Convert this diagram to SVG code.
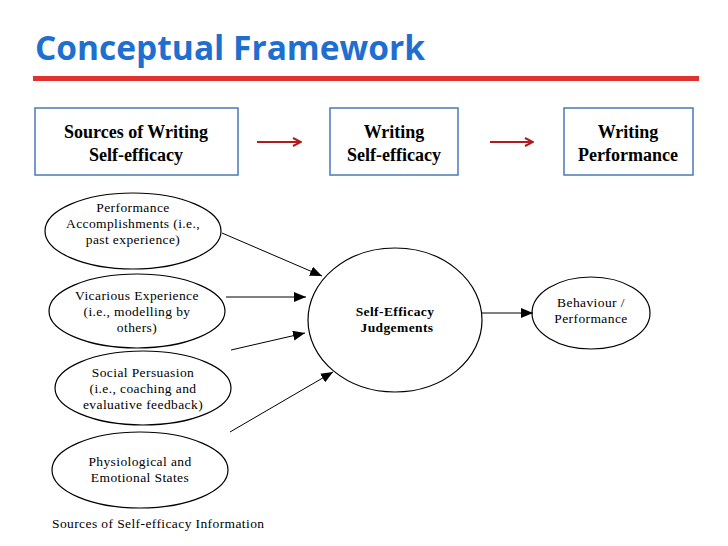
<svg xmlns="http://www.w3.org/2000/svg" width="728" height="546" viewBox="0 0 728 546">
<style>
.box{fill:#fff;stroke:#4a7ab5;stroke-width:1.5}
.bt{font-family:"Liberation Serif",serif;font-weight:bold;font-size:18px;text-anchor:middle;fill:#000}
.el{fill:#fff;stroke:#000;stroke-width:1.2}
.t{font-family:"Liberation Serif",serif;font-size:13.5px;letter-spacing:0.4px;text-anchor:middle;fill:#000}
.c{stroke:#000;stroke-width:1;fill:none;marker-end:url(#a)}
.r{stroke:#b01c1c;stroke-width:2;fill:none;marker-end:url(#ra)}
</style>
<defs>
<marker id="a" markerWidth="12" markerHeight="10" refX="12" refY="5" orient="auto" markerUnits="userSpaceOnUse"><path d="M0,0 L12,5 L0,10z" fill="#000"/></marker>
<marker id="ra" markerWidth="10" markerHeight="10" refX="9" refY="5" orient="auto" markerUnits="userSpaceOnUse"><path d="M1,1 L9,5 L1,9" fill="none" stroke="#b01c1c" stroke-width="2"/></marker>
</defs>
<rect width="728" height="546" fill="#fff"/>
<text x="35" y="60" font-family="Open Sans,sans-serif" font-weight="bold" font-size="33.5" fill="#1f6fd0">Conceptual Framework</text>
<rect x="33" y="76" width="666" height="5" fill="#e0322e"/>
<g id="box1"><rect class="box" x="35" y="108" width="203" height="67"/><text class="bt" x="136" y="138">Sources of Writing</text><text class="bt" x="136" y="161">Self-efficacy</text></g>
<g id="box2"><rect class="box" x="330" y="108" width="128" height="67"/><text class="bt" x="394" y="138">Writing</text><text class="bt" x="394" y="161">Self-efficacy</text></g>
<g id="box3"><rect class="box" x="564" y="108" width="129" height="67"/><text class="bt" x="628" y="138">Writing</text><text class="bt" x="628" y="161">Performance</text></g>
<g id="e1"><ellipse class="el" cx="133" cy="231" rx="88" ry="38"/><text class="t" x="133" y="212">Performance</text><text class="t" x="133" y="228">Accomplishments (i.e.,</text><text class="t" x="133" y="244">past experience)</text></g>
<g id="e2"><ellipse class="el" cx="137" cy="311" rx="88" ry="37"/><text class="t" x="137" y="300">Vicarious Experience</text><text class="t" x="137" y="316">(i.e., modelling by</text><text class="t" x="137" y="332">others)</text></g>
<g id="e3"><ellipse class="el" cx="143" cy="388" rx="88" ry="37"/><text class="t" x="143" y="377">Social Persuasion</text><text class="t" x="143" y="393">(i.e., coaching and</text><text class="t" x="143" y="409">evaluative feedback)</text></g>
<g id="e4"><ellipse class="el" cx="140" cy="470" rx="88" ry="38"/><text class="t" x="140" y="466">Physiological and</text><text class="t" x="140" y="482">Emotional States</text></g>
<g id="se"><ellipse class="el" cx="395" cy="320" rx="87" ry="72"/><text class="t" x="395" y="316" font-weight="bold">Self-Efficacy</text><text class="t" x="397" y="332" font-weight="bold">Judgements</text></g>
<g id="bp"><ellipse class="el" cx="591" cy="313" rx="59" ry="36"/><text class="t" x="591" y="307">Behaviour /</text><text class="t" x="591" y="323">Performance</text></g>
<g id="connectors">
<path class="r" d="M257,142 H301"/><path class="r" d="M490,142 H533"/>
<path class="c" d="M222,233 L322,276"/>
<path class="c" d="M226,297 H306"/>
<path class="c" d="M231,350 L305,333"/>
<path class="c" d="M230,432 L333,372"/>
<path class="c" d="M482,313 H533"/>
</g>
<text x="52" y="528" font-family="Liberation Serif,serif" font-size="13.5" letter-spacing="0.4" fill="#000">Sources of Self-efficacy Information</text>
</svg>
